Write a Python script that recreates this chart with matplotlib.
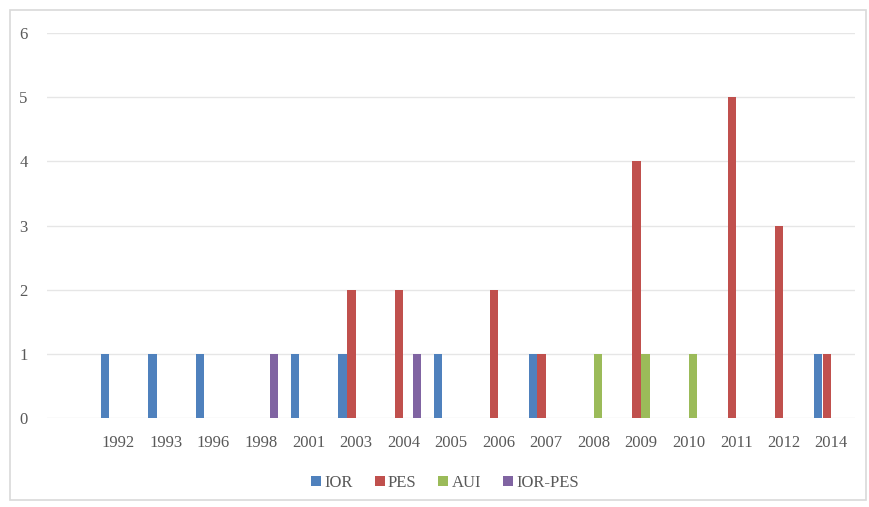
import numpy as np
import matplotlib
matplotlib.use('Agg')
from matplotlib import pyplot as plt
from matplotlib.patches import Rectangle

# categories (first slot is empty in the original chart)
years = ['', '1992', '1993', '1996', '1998', '2001', '2003', '2004', '2005',
         '2006', '2007', '2008', '2009', '2010', '2011', '2012', '2014']
ior = [0, 1, 1, 1, 0, 1, 1, 0, 1, 0, 1, 0, 0, 0, 0, 0, 1]
pes = [0, 0, 0, 0, 0, 0, 2, 2, 0, 2, 1, 0, 4, 0, 5, 3, 1]
aui = [0, 0, 0, 0, 0, 0, 0, 0, 0, 0, 0, 1, 1, 1, 0, 0, 0]
ior_pes = [0, 0, 0, 0, 1, 0, 0, 1, 0, 0, 0, 0, 0, 0, 0, 0, 0]

series = [('IOR', ior, '#4F81BD'), ('PES', pes, '#C0504D'),
          ('AUI', aui, '#9BBB59'), ('IOR-PES', ior_pes, '#8064A2')]

plt.rcParams['font.family'] = ['Liberation Serif', 'DejaVu Serif']
text_col = '#595959'

fig = plt.figure(figsize=(8.7, 5.07), dpi=100)
ax = fig.add_axes([47 / 870, 89 / 507, 808 / 870, 385 / 507])

x = np.arange(len(years))
w = 0.186
for i, (name, vals, col) in enumerate(series):
    vals = np.array(vals, dtype=float)
    ax.bar(x + (i - 1.5) * w, np.where(vals > 0, vals, np.nan), width=w * 0.95,
           color=col, label=name, zorder=3)

ax.set_xlim(-0.5, len(years) - 0.5)
ax.set_ylim(0, 6)
ax.set_yticks(range(7))
ax.set_xticks(x)
ax.set_xticklabels(years)
ax.grid(axis='y', color='#E6E6E6', linewidth=1, zorder=0)
for s in ax.spines.values():
    s.set_visible(False)
ax.tick_params(axis='both', length=0, labelsize=12, colors=text_col)
ax.tick_params(axis='y', pad=14)
ax.tick_params(axis='x', pad=12)

leg = fig.legend(loc='center', bbox_to_anchor=(445 / 870, 1 - 483 / 507), ncol=4,
                 frameon=False, fontsize=12, handlelength=0.6, handleheight=0.6,
                 handletextpad=0.2, columnspacing=1.3)
for t in leg.get_texts():
    t.set_color(text_col)

fig.patches.append(Rectangle((10 / 870, 7 / 507), 856 / 870, 490 / 507,
                             transform=fig.transFigure, fill=False,
                             edgecolor='#D9D9D9', linewidth=1.2))

fig.savefig('out.png', dpi=100)
